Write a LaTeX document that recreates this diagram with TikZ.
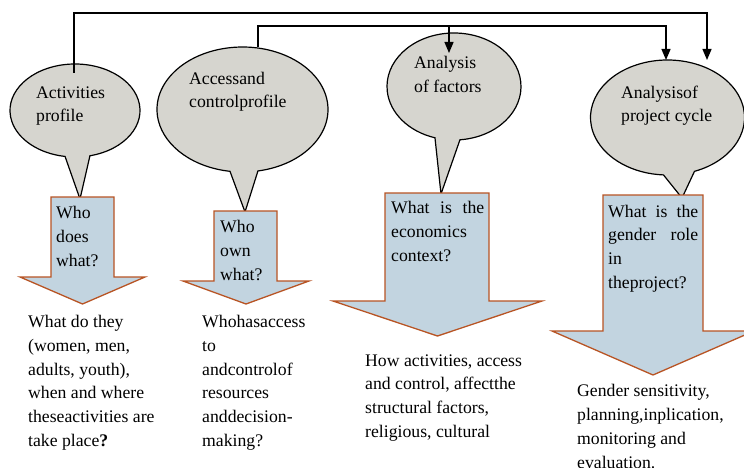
\documentclass[tikz,border=0pt]{standalone}
\usepackage{fontspec}
\setmainfont{Liberation Serif}
\usetikzlibrary{arrows.meta,calc}
\definecolor{calloutgray}{RGB}{214,213,207}
\definecolor{arrowblue}{RGB}{194,212,224}
\definecolor{arrowedge}{RGB}{184,84,36}
\begin{document}
\begin{tikzpicture}[x=1pt,y=-1pt,
  callout/.style={fill=calloutgray,draw=black,line width=1.2pt,line join=miter},
  bigarrow/.style={fill=arrowblue,draw=arrowedge,line width=1.3pt,line join=miter},
  conn/.style={draw=black,line width=1.3pt},
  connarrow/.style={conn,-{Triangle[length=11pt,width=9pt]}},
  txt/.style={font=\fontsize{17.7}{23.8}\selectfont,inner sep=0pt,anchor=base west,align=left}]
\useasboundingbox (0,0) rectangle (744,468);
\fill[white] (0,0) rectangle (744,468);

% callouts
\coordinate (actC) at (75,110.5);
\coordinate (accC) at (242.5,109.5);
\coordinate (facC) at (454,86.5);
\coordinate (cycC) at (667.5,117.5);
\filldraw[callout] ($(actC)+(98.8:65 and 46.5)$) -- (80,199) -- ($(actC)+(76.7:65 and 46.5)$)
  arc[start angle=76.7, delta angle=-337.9, x radius=65, y radius=46.5] -- cycle;
\filldraw[callout] ($(accC)+(98.4:85.5 and 62.5)$) -- (245,212) -- ($(accC)+(79.6:85.5 and 62.5)$)
  arc[start angle=79.6, delta angle=-341.2, x radius=85.5, y radius=62.5] -- cycle;
\filldraw[callout] ($(facC)+(106.5:67 and 53.5)$) -- (441,194) -- ($(facC)+(84.9:67 and 53.5)$)
  arc[start angle=84.9, delta angle=-338.4, x radius=67, y radius=53.5] -- cycle;
\filldraw[callout] ($(cycC)+(93:77 and 57.5)$) -- (682,198) -- ($(cycC)+(69.5:77 and 57.5)$)
  arc[start angle=69.5, delta angle=-336.5, x radius=77, y radius=57.5] -- cycle;

% (base anchor = baseline of the last line)
\node[txt] (e1) at (36,122) {Activities\\profile};
\node[txt] (e2) at (189,108) {Accessand\\controlprofile};
\node[txt] (e3) at (414,92.5) {Analysis\\of factors};
\node[txt] (e4) at (621,122) {Analysisof\\project cycle};

% connectors
\coordinate (actTop) at (74,73);
\coordinate (accTop) at (258,47);
\coordinate (facIn) at (449,53);
\coordinate (cycIn1) at (707,60);
\coordinate (cycIn2) at (666,60);
\coordinate (br) at (449,26);
\draw[connarrow] (actTop) -- (actTop |- 0,13) -| (cycIn1);
\draw[connarrow] (accTop) -- (accTop |- br) -| (cycIn2);
\draw[connarrow] (br) -- (facIn);

% block arrows
\filldraw[bigarrow] (51,197) -- (114,197) -- (114,277) -- (145,277) -- (82.5,304) -- (20,277) -- (51,277) -- cycle;
\filldraw[bigarrow] (214,211) -- (277,211) -- (277,281) -- (309,281) -- (246,304) -- (183,281) -- (214,281) -- cycle;
\filldraw[bigarrow] (385,193) -- (489,193) -- (489,301) -- (542,301) -- (437.5,336) -- (333,301) -- (385,301) -- cycle;
\filldraw[bigarrow] (603,195) -- (703,195) -- (703,331) -- (754,331) -- (653,375) -- (552,331) -- (603,331) -- cycle;

\node[txt] (t1) at (56,266.5) {Who\\does\\what?};
\node[txt] (t2) at (220,280.5) {Who\\own\\what?};
\node[txt] (t3) at (391,261.5) {\makebox[93pt][s]{What is the}\\economics\\context?};
\node[txt] (t4) at (608,288.4) {\makebox[90pt][s]{What is the}\\\makebox[90pt][s]{gender role}\\in\\theproject?};

% bottom texts
\node[txt] (b1) at (28,446.5) {What do they\\(women, men,\\adults, youth),\\when and where\\theseactivities are\\take place\textbf{?}};
\node[txt] (b2) at (202,446.5) {Whohasaccess\\to\\andcontrolof\\resources\\anddecision-\\making?};
\node[txt] (b3) at (365,437.5) {How activities, access\\and control, affectthe\\structural factors,\\religious, cultural};
\node[txt] (b4) at (577,468) {Gender sensitivity,\\planning,inplication,\\monitoring and\\evaluation.};
\end{tikzpicture}
\end{document}
